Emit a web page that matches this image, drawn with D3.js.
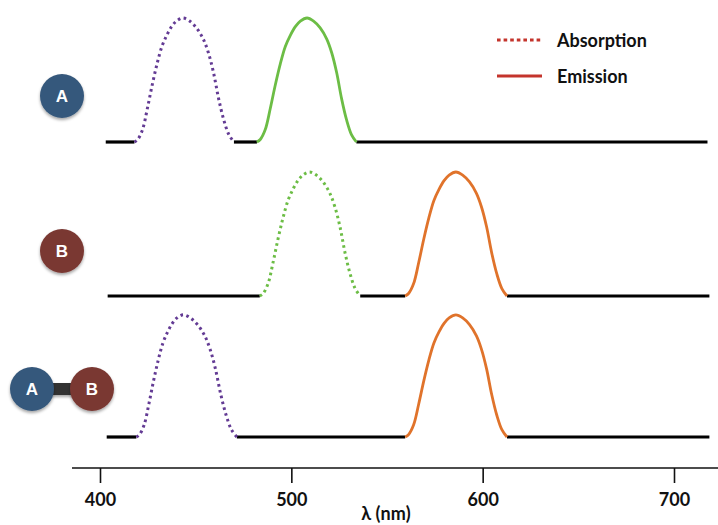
<!DOCTYPE html>
<html><head><meta charset="utf-8">
<script src="https://cdn.jsdelivr.net/npm/d3@7"></script>
<style>
html,body{margin:0;padding:0;background:#fff;}
svg{display:block;}
text{font-family:Lato, "Open Sans", sans-serif;font-weight:700;}
</style></head>
<body>
<svg id="chart" width="718" height="525"></svg>
<script>
// ---- data ----
const tickValues = [400, 500, 600, 700];
const axisLabel = "λ (nm)";
const legendItems = ["Absorption", "Emission"];
// normalized band shape (t: -1 start, 0 peak, 1 end)
const profileT = [-1, -0.933, -0.833, -0.733, -0.633, -0.533, -0.433, -0.333, -0.233, -0.133, 0, 0.133, 0.267, 0.4, 0.5, 0.6, 0.7, 0.8, 0.9, 1];
const profileV = [0, 0.02, 0.10, 0.27, 0.46, 0.63, 0.77, 0.86, 0.93, 0.975, 1, 0.975, 0.92, 0.83, 0.72, 0.56, 0.35, 0.18, 0.06, 0];
// rows: baseline segments [start, end] nm, bands [start, peak, end] nm
const rowNames = ["A", "B", "AB"];
const baselineSegments = [
  [[403, 418], [470, 482], [534, 717.5]],
  [[404, 483.5], [536, 559.5], [612.7, 718.5]],
  [[403.5, 419], [471.5, 559.5], [612.7, 718.5]]
];
const bandRanges = [
  [[418, 443.3, 470], [482, 508.2, 534]],
  [[483.5, 509.5, 536], [559.5, 586, 612.7]],
  [[419, 443.5, 471.5], [559.5, 586, 612.7]]
];
const bandKinds = [
  ["absorption", "emission"],
  ["absorption", "emission"],
  ["absorption", "emission"]
];
const bandHues = [
  ["purple", "green"],
  ["green", "orange"],
  ["purple", "orange"]
];
const bandHeights = [1, 1, 0.985];

// ---- layout / style ----
const W = 718, H = 525;
const rowBaseY = [142, 296, 437];
const colors = {purple: "#633b94", green: "#6cbd45", orange: "#e0732b", legend: "#c4342c", base: "#000"};
const circleColors = {A: "#36587b", B: "#7a3833"};

const svg = d3.select("#chart");
const defs = svg.append("defs");
const f = defs.append("filter").attr("id", "shadow").attr("x", "-50%").attr("y", "-50%").attr("width", "200%").attr("height", "200%");
f.append("feDropShadow").attr("dx", 0).attr("dy", 2).attr("stdDeviation", 1.6).attr("flood-color", "#000").attr("flood-opacity", 0.35);

const x = d3.scaleLinear().domain([400, 700]).range([100, 674]);
const y = d3.scaleLinear().domain([0, 1]).range([0, -124]);

const line = d3.line().x(d => x(d[0])).y(d => y(d[1])).curve(d3.curveCatmullRom.alpha(0.5));

rowNames.forEach((name, i) => {
  const g = svg.append("g").attr("transform", `translate(0,${rowBaseY[i]})`);
  baselineSegments[i].forEach(seg => {
    g.append("line")
      .attr("x1", x(seg[0])).attr("x2", x(seg[1]))
      .attr("y1", y(0)).attr("y2", y(0))
      .attr("stroke", colors.base).attr("stroke-width", 3.2);
  });
  bandRanges[i].forEach((b, j) => {
    const pts = profileT.map((t, k) => [t < 0 ? b[1] + t * (b[1] - b[0]) : b[1] + t * (b[2] - b[1]), profileV[k] * bandHeights[i]]);
    const p = g.append("path").datum(pts).attr("d", line)
      .attr("fill", "none").attr("stroke", colors[bandHues[i][j]]).attr("stroke-width", 2.8);
    if (bandKinds[i][j] === "absorption") p.attr("stroke-dasharray", "2.6,3.4").attr("stroke-width", 3);
  });
});

// circles
function badge(cx, cy, label) {
  const g = svg.append("g");
  g.append("circle").attr("cx", cx).attr("cy", cy).attr("r", 22)
    .attr("fill", circleColors[label]).attr("filter", "url(#shadow)");
  g.append("text").attr("x", cx).attr("y", cy + 6).attr("text-anchor", "middle")
    .attr("fill", "#fff").attr("font-size", 17)
    .style("font-family", "'Liberation Sans', Arial, sans-serif").text(label);
}
badge(62, 96, "A");
badge(62, 251, "B");
svg.append("rect").attr("x", 50).attr("y", 383).attr("width", 26).attr("height", 12).attr("fill", "#333").attr("filter", "url(#shadow)");
badge(32, 389, "A");
badge(92, 389, "B");

// axis
const axisY = 468;
const axisG = svg.append("g").attr("transform", `translate(0,${axisY})`);
axisG.append("line").attr("x1", 72).attr("x2", W).attr("y1", 0).attr("y2", 0).attr("stroke", "#111").attr("stroke-width", 1.6);
const axis = d3.axisBottom(x).tickValues(tickValues).tickSize(15).tickSizeOuter(0).tickPadding(10).tickFormat(d3.format("d"));
const ax = axisG.append("g").call(axis);
ax.select(".domain").remove();
ax.selectAll(".tick line").attr("stroke", "#111").attr("stroke-width", 1.6);
ax.selectAll(".tick text").attr("fill", "#111").attr("font-size", 18)
  .style("font-family", "Lato, sans-serif").style("font-weight", 700);
svg.append("text").attr("x", 386).attr("y", 520).attr("text-anchor", "middle")
  .attr("font-size", 18).attr("fill", "#111").text(axisLabel);

// legend
const lg = svg.append("g");
legendItems.forEach((t, i) => {
  const ly = 40 + i * 36;
  const l = lg.append("line").attr("x1", 497).attr("x2", 542).attr("y1", ly).attr("y2", ly)
    .attr("stroke", colors.legend).attr("stroke-width", 3.2);
  if (i === 0) l.attr("stroke-dasharray", "3.6,3");
  lg.append("text").attr("x", 557).attr("y", ly + 7).attr("font-size", 18).attr("fill", "#111").text(t);
});
</script>
</body></html>
